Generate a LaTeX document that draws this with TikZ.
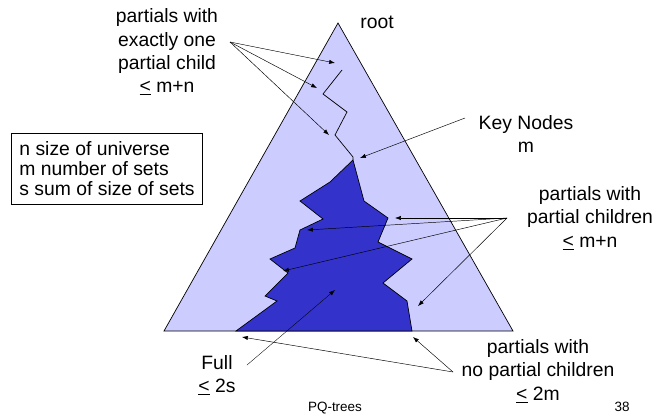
\documentclass[tikz,border=0pt]{standalone}
\usepackage{fontspec}
\setmainfont{Liberation Sans}
\usetikzlibrary{arrows.meta}

\definecolor{partialblue}{RGB}{204,204,255}
\definecolor{fullblue}{RGB}{51,51,204}

\tikzset{
    lbl/.style={align=center, inner sep=0pt, font=\fontsize{16.5}{20}\selectfont},
    ptr/.style={-{Latex[length=5pt,width=3.6pt]}, line width=0.4pt},
}

\newcommand{\atmost}{\underline{<}}

\begin{document}
\begin{tikzpicture}[x=0.03cm, y=-0.03cm]
    \useasboundingbox (0,0) rectangle (661,416);
    % The tree and its full part.
        \draw[fill=partialblue, line width=0.6pt] (338,23) -- (513,331) -- (164,331) -- cycle;
        \draw[fill=fullblue, line width=0.6pt] (353,160) -- (330,182) -- (300,201) -- (323,219)
            -- (300,230) -- (295,248) -- (270,259) -- (288,273) -- (265,296) -- (277,301)
            -- (236,331) -- (412,331) -- (407,301) -- (383,283) -- (412,259) -- (378,242)
            -- (388,218) -- (364,201) -- cycle;
    % This draws the path down to the key nodes.
        \draw[line width=0.6pt] (342,70) -- (323,94) -- (347,112) -- (335,135) -- (353,157) -- (353,160);
    % Below nodes are the labels.
        \node[lbl] (root) at (377,22) {root};
        \node[lbl] (oneChild) at (167,52) {partials with\\exactly one\\partial child\\\atmost{} m+n};
        \node[lbl] (keyNodes) at (526,134) {Key Nodes\\m};
        \node[lbl] (partChildren) at (590,218) {partials with\\partial children\\\atmost{} m+n};
        \node[lbl] (full) at (217,375) {Full\\\atmost{} 2s};
        \node[lbl] (noChildren) at (538,371) {partials with\\no partial children\\\atmost{} 2m};
        \node[draw, align=left, inner xsep=7pt, inner ysep=7pt, line width=0.6pt,
            font=\fontsize{16.5}{17}\selectfont] (legend) at (107,169)
            {n size of universe\\m number of sets\\s sum of size of sets};
        \node[inner sep=0pt, font=\fontsize{11.5}{13}\selectfont] (title) at (335,408) {PQ-trees};
        \node[inner sep=0pt, font=\fontsize{11.5}{13}\selectfont] (page) at (622,407) {38};
    % Arrow ends.
        \coordinate (oneSrc) at (230,42);
        \coordinate (keySrc) at (465,118);
        \coordinate (partSrc) at (507,218);
        \coordinate (fullSrc) at (247,365);
        \coordinate (leafSrc) at (453,372);
        \coordinate (oneA) at (335,63);
        \coordinate (oneB) at (317,88);
        \coordinate (oneC) at (329,135);
        \coordinate (keyA) at (360,158);
        \coordinate (partA) at (395,218);
        \coordinate (partB) at (307,230);
        \coordinate (partC) at (283,271);
        \coordinate (partD) at (418,306);
        \coordinate (fullA) at (335,290);
        \coordinate (leafA) at (242,337);
        \coordinate (leafB) at (413,337);
    % Arrows.
        \foreach \t in {oneA,oneB,oneC} \draw[ptr] (oneSrc) -- (\t);
        \draw[ptr] (keySrc) -- (keyA);
        \foreach \t in {partA,partB,partC,partD} \draw[ptr] (partSrc) -- (\t);
        \draw[ptr, line width=0.3pt] (fullSrc) -- (fullA);
        \foreach \t in {leafA,leafB} \draw[ptr] (leafSrc) -- (\t);
\end{tikzpicture}
\end{document}
